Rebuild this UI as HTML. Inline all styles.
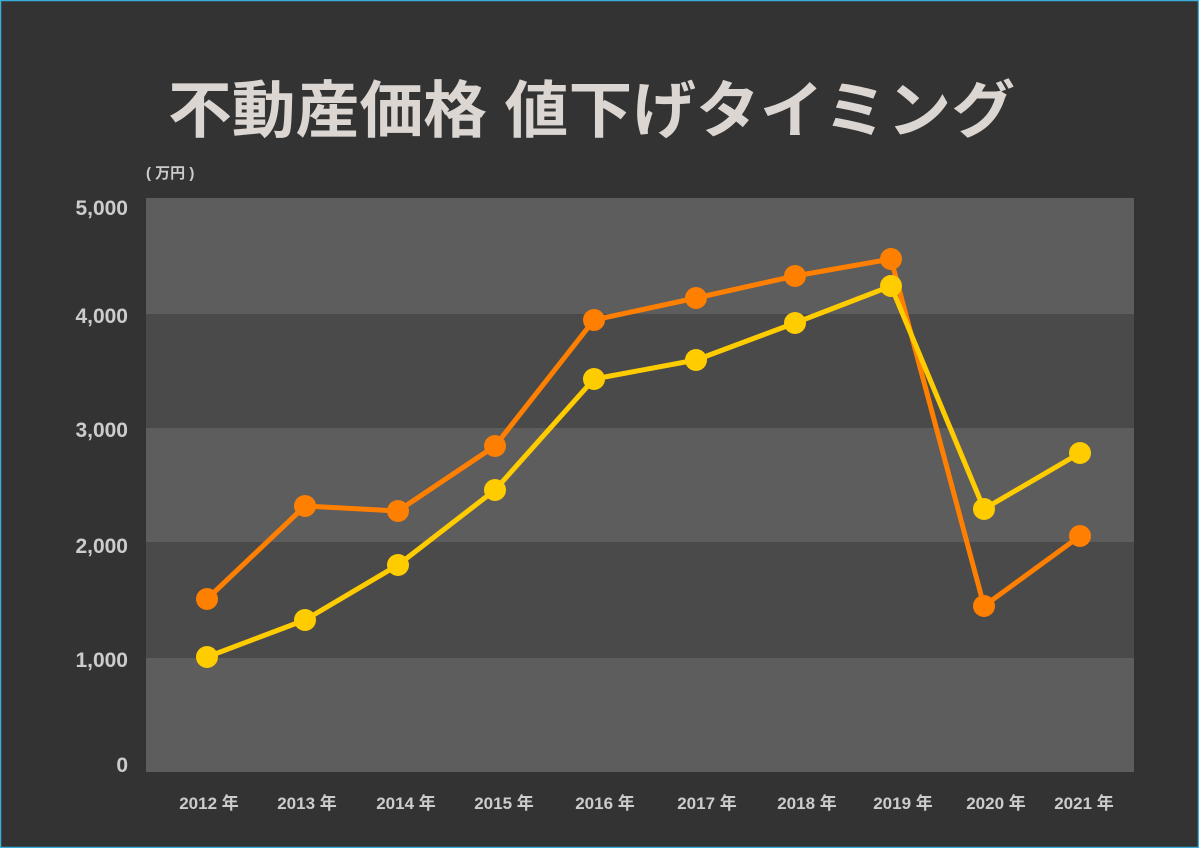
<!DOCTYPE html>
<html><head><meta charset="utf-8"><style>
html,body{margin:0;padding:0;background:#333;}
body{width:1199px;height:848px;overflow:hidden;}
</style></head><body>
<svg width="1199" height="848" xmlns="http://www.w3.org/2000/svg" style="display:block">
<rect x="0.5" y="0.5" width="1198" height="847" fill="#333333" stroke="#3aaed8" stroke-width="1.5"/>
<text x="168" y="132" textLength="847" lengthAdjust="spacingAndGlyphs" font-family="'Liberation Sans','Noto Sans CJK JP',sans-serif" font-weight="bold" font-size="62" fill="#dcd6d2">不動産価格 値下げタイミング</text>
<text x="146" y="178" font-family="'Liberation Sans','Noto Sans CJK JP',sans-serif" font-weight="bold" font-size="15" fill="#cccccc">( 万円 )</text>
<rect x="146" y="198" width="988" height="116" fill="#5d5d5d"/>
<rect x="146" y="314" width="988" height="114" fill="#4a4a4a"/>
<rect x="146" y="428" width="988" height="114" fill="#5d5d5d"/>
<rect x="146" y="542" width="988" height="116" fill="#4a4a4a"/>
<rect x="146" y="658" width="988" height="114" fill="#5d5d5d"/>
<g font-family="'Liberation Sans','Noto Sans CJK JP',sans-serif" font-weight="bold" font-size="21" fill="#cccccc" text-anchor="end">
<text x="128" y="215">5,000</text>
<text x="128" y="323">4,000</text>
<text x="128" y="437">3,000</text>
<text x="128" y="553">2,000</text>
<text x="128" y="667">1,000</text>
<text x="128" y="772">0</text>
</g>
<g font-family="'Liberation Sans','Noto Sans CJK JP',sans-serif" font-weight="bold" font-size="17" fill="#cccccc" text-anchor="middle">
<text x="209" y="809">2012 年</text><text x="307" y="809">2013 年</text><text x="406" y="809">2014 年</text><text x="504" y="809">2015 年</text><text x="605" y="809">2016 年</text><text x="707" y="809">2017 年</text><text x="807" y="809">2018 年</text><text x="903" y="809">2019 年</text><text x="996" y="809">2020 年</text><text x="1084" y="809">2021 年</text>
</g>
<polyline fill="none" stroke="#ff7f00" stroke-width="5" stroke-linejoin="round" points="207,599 305,506 398,511 495,446 594,320 696,298 795,276 891,259 984,606 1080,536"/>
<polyline fill="none" stroke="#ffcc00" stroke-width="5" stroke-linejoin="round" points="207,657 305,620 398,565 495,490 594,379 696,360 795,323 891,286 984,509 1080,453"/>
<g fill="#ff7f00">
<circle cx="207" cy="599" r="11"/><circle cx="305" cy="506" r="11"/><circle cx="398" cy="511" r="11"/><circle cx="495" cy="446" r="11"/><circle cx="594" cy="320" r="11"/><circle cx="696" cy="298" r="11"/><circle cx="795" cy="276" r="11"/><circle cx="891" cy="259" r="11"/><circle cx="984" cy="606" r="11"/><circle cx="1080" cy="536" r="11"/>
</g>
<g fill="#ffcc00">
<circle cx="207" cy="657" r="11"/><circle cx="305" cy="620" r="11"/><circle cx="398" cy="565" r="11"/><circle cx="495" cy="490" r="11"/><circle cx="594" cy="379" r="11"/><circle cx="696" cy="360" r="11"/><circle cx="795" cy="323" r="11"/><circle cx="891" cy="286" r="11"/><circle cx="984" cy="509" r="11"/><circle cx="1080" cy="453" r="11"/>
</g>
</svg>
</body></html>
